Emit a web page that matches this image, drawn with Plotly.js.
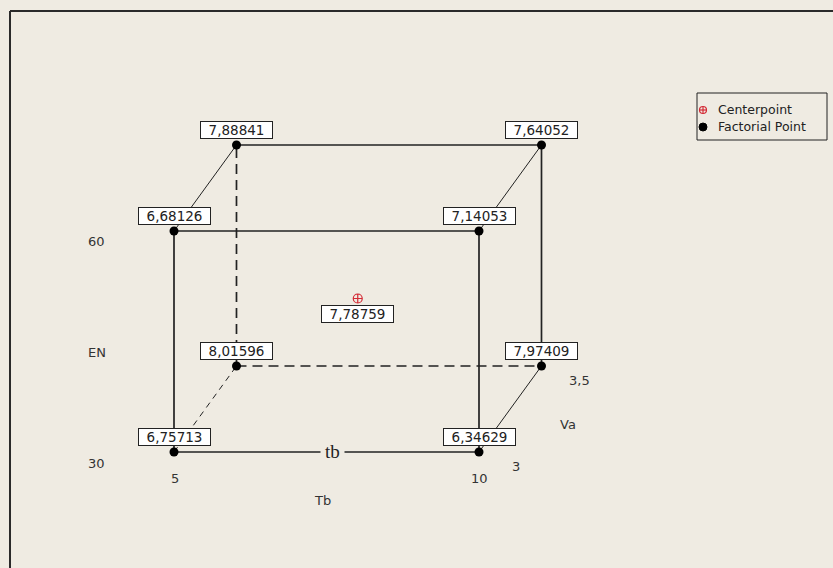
<!DOCTYPE html>
<html>
<head>
<meta charset="utf-8">
<script src="https://cdn.plot.ly/plotly-3.0.1.min.js"></script>
<style>
  html, body { margin: 0; padding: 0; background: #EFEBE2; }
  #cube { width: 833px; height: 568px; }
</style>
</head>
<body>
<div id="cube"></div>
<script>
// factor levels and fitted means for the 8 corners of the cube
var tbLevels = [5, 10, 5, 10, 5, 10, 5, 10];
var enLevels = [30, 30, 60, 60, 30, 30, 60, 60];
var vaLevels = [3, 3, 3, 3, 3.5, 3.5, 3.5, 3.5];
var means = [6.75713, 6.34629, 6.68126, 7.14053, 8.01596, 7.97409, 7.88841, 7.64052];

var centerTb = [7.5];
var centerEn = [45];
var centerVa = [3.25];
var centerMean = [7.78759];

var legendNames = ['Centerpoint', 'Factorial Point'];

// oblique projection of the Va axis
var DX = 2.049, DY = 23.35;
function px(tb, va) { return tb + (va - 3) * DX; }
function py(en, va) { return en + (va - 3) * DY; }
function fmt(v) { return v.toFixed(5).replace('.', ','); }

var BG = '#EFEBE2';
var INK = '#222222';

// cube edges: [from, to, dash, width]
var edges = [
  [0, 1, 'solid', 1.7], [2, 3, 'solid', 1.7], [0, 2, 'solid', 1.7], [1, 3, 'solid', 1.7],
  [6, 7, 'solid', 1.7], [5, 7, 'solid', 1.7], [4, 6, '10px,6px', 1.7], [4, 5, '10px,6px', 1.7],
  [2, 6, 'solid', 1], [3, 7, 'solid', 1], [1, 5, 'solid', 1], [0, 4, '6px,5px', 1]
];

var data = [];
edges.forEach(function(e){
  var a = e[0], b = e[1];
  data.push({
    x: [px(tbLevels[a], vaLevels[a]), px(tbLevels[b], vaLevels[b])],
    y: [py(enLevels[a], vaLevels[a]), py(enLevels[b], vaLevels[b])],
    type: 'scatter', mode: 'lines', hoverinfo: 'skip', showlegend: false,
    line: {color: INK, width: e[3], dash: e[2]}
  });
});

var cx = [], cy = [];
for (var i = 0; i < means.length; i++) {
  cx.push(px(tbLevels[i], vaLevels[i]));
  cy.push(py(enLevels[i], vaLevels[i]));
}
data.push({
  x: cx, y: cy, type: 'scatter', mode: 'markers', name: legendNames[1], showlegend: false,
  marker: {color: '#000000', size: 9, symbol: 'circle'}
});
data.push({
  x: [px(centerTb[0], centerVa[0])], y: [py(centerEn[0], centerVa[0])],
  type: 'scatter', mode: 'markers', name: legendNames[0], showlegend: false,
  marker: {color: '#D42A35', size: 9, symbol: 'circle-cross-open', line: {width: 1.2}}
});

var labelFont = {family: 'DejaVu Sans', size: 13.5, color: INK};
var annotations = [];
for (var i = 0; i < means.length; i++) {
  annotations.push({
    x: cx[i], y: cy[i], text: fmt(means[i]), showarrow: false,
    xanchor: 'center', yanchor: 'bottom', yshift: 6,
    bgcolor: '#FFFFFF', bordercolor: INK, borderwidth: 1, borderpad: 0,
    width: 71, height: 16, font: labelFont
  });
}
annotations.push({
  x: px(centerTb[0], centerVa[0]), y: py(centerEn[0], centerVa[0]),
  text: fmt(centerMean[0]), showarrow: false,
  xanchor: 'center', yanchor: 'top', yshift: -6,
  bgcolor: '#FFFFFF', bordercolor: INK, borderwidth: 1, borderpad: 0,
  width: 71, height: 16, font: labelFont
});

// factor labels
var axFont = {family: 'DejaVu Sans', size: 13, color: '#333333'};
function lab(text, x, y, xs, ys) {
  annotations.push({x: x, y: y, text: text, showarrow: false, xshift: xs, yshift: ys,
    xanchor: 'center', yanchor: 'middle', font: axFont});
}
lab('60', 5, 60, -78, -10);
lab('30', 5, 30, -78, -11);
lab('EN', 5, 45, -77, -11);
lab('5', 5, 30, 1, -26);
lab('10', 10, 30, 0, -26);
lab('Tb', 7.5, 30, -4, -48);
lab('3', px(10, 3), 30, 37, -14);
lab('3,5', px(10, 3.5), py(30, 3.5), 38, -15);
lab('Va', (px(10, 3) + px(10, 3.5)) / 2, (py(30, 3) + py(30, 3.5)) / 2, 58, -15);

annotations.push({
  x: 7.6, y: 30, text: 'tb', showarrow: false, xanchor: 'center', yanchor: 'middle', yshift: 1,
  bgcolor: BG, borderpad: 4, font: {family: 'Liberation Serif', size: 19, color: INK}
});

// legend texts
var legFont = {family: 'DejaVu Sans', size: 12.5, color: INK};
annotations.push({xref: 'paper', yref: 'paper', x: 716 / 833, y: 1 - 110 / 568, text: legendNames[0],
  showarrow: false, xanchor: 'left', yanchor: 'middle', font: legFont});
annotations.push({xref: 'paper', yref: 'paper', x: 716 / 833, y: 1 - 127 / 568, text: legendNames[1],
  showarrow: false, xanchor: 'left', yanchor: 'middle', font: legFont});

var shapes = [
  // frame
  {type: 'line', xref: 'paper', yref: 'paper', x0: 10 / 833, x1: 10 / 833, y0: 0, y1: 1 - 11 / 568,
   line: {color: '#2a2a2a', width: 2}},
  {type: 'line', xref: 'paper', yref: 'paper', x0: 10 / 833, x1: 1, y0: 1 - 11 / 568, y1: 1 - 11 / 568,
   line: {color: '#2a2a2a', width: 2}},
  // legend box
  {type: 'rect', xref: 'paper', yref: 'paper', x0: 697 / 833, x1: 827 / 833, y0: 1 - 140 / 568, y1: 1 - 93 / 568,
   line: {color: INK, width: 1}},
  // legend markers
  {type: 'circle', xref: 'paper', yref: 'paper', xsizemode: 'pixel', ysizemode: 'pixel',
   xanchor: 703 / 833, yanchor: 1 - 127 / 568, x0: -4, x1: 4, y0: -4, y1: 4,
   fillcolor: '#000000', line: {color: '#000000', width: 1}},
  {type: 'circle', xref: 'paper', yref: 'paper', xsizemode: 'pixel', ysizemode: 'pixel',
   xanchor: 703 / 833, yanchor: 1 - 110 / 568, x0: -3.5, x1: 3.5, y0: -3.5, y1: 3.5,
   line: {color: '#D42A35', width: 1.2}},
  {type: 'line', xref: 'paper', yref: 'paper', xsizemode: 'pixel', ysizemode: 'pixel',
   xanchor: 703 / 833, yanchor: 1 - 110 / 568, x0: -3.5, x1: 3.5, y0: 0, y1: 0,
   line: {color: '#D42A35', width: 1.2}},
  {type: 'line', xref: 'paper', yref: 'paper', xsizemode: 'pixel', ysizemode: 'pixel',
   xanchor: 703 / 833, yanchor: 1 - 110 / 568, x0: 0, x1: 0, y0: -3.5, y1: 3.5,
   line: {color: '#D42A35', width: 1.2}}
];

var layout = {
  width: 833, height: 568,
  margin: {l: 0, r: 0, t: 0, b: 0},
  paper_bgcolor: BG, plot_bgcolor: BG,
  showlegend: false,
  xaxis: {range: [5 - 174 / 61, 5 + 659 / 61], visible: false, fixedrange: true},
  yaxis: {range: [30 - 116 / 7.3667, 30 + 452 / 7.3667], visible: false, fixedrange: true},
  annotations: annotations,
  shapes: shapes
};

Plotly.newPlot('cube', data, layout, {displayModeBar: false, staticPlot: true});
</script>
</body>
</html>
